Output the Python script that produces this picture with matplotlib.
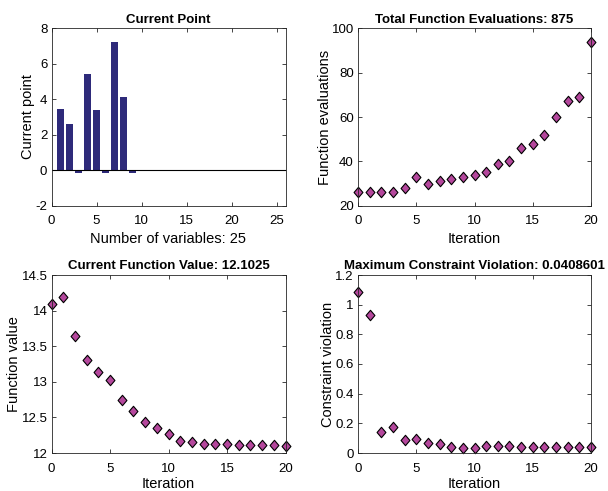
import numpy as np
import matplotlib
matplotlib.use("Agg")
import matplotlib.pyplot as plt
from matplotlib.path import Path

plt.rcParams['font.family'] = ['Liberation Sans', 'DejaVu Sans']
plt.rcParams['axes.unicode_minus'] = False

# Current point (25 variables)
var_idx = np.arange(1, 26)
point_vals = [3.45, 2.6, -0.15, 5.4, 3.4, -0.15, 7.25, 4.15, -0.15,
              0.0, 0.0, 0.0, 0.0, -0.01, -0.01, -0.01, -0.01, -0.01, -0.01,
              -0.01, -0.01, -0.01, -0.01, -0.01, -0.01]

iters = np.arange(0, 21)
func_evals = [26, 26, 26, 26, 28, 33, 30, 31, 32, 33, 34, 35, 39, 40, 46, 48,
              52, 60, 67, 69, 94]
func_vals = [14.09, 14.19, 13.64, 13.31, 13.14, 13.03, 12.74, 12.59, 12.44,
             12.35, 12.27, 12.17, 12.16, 12.13, 12.12, 12.12, 12.11, 12.11,
             12.11, 12.11, 12.1025]
constr_viol = [1.085, 0.93, 0.14, 0.175, 0.085, 0.095, 0.065, 0.06, 0.04,
               0.035, 0.035, 0.045, 0.045, 0.045, 0.04, 0.04, 0.04, 0.04,
               0.04, 0.04, 0.0408601]

bar_color = '#2e2a7a'
mk_face = '#b4479c'
axis_color = '#262626'

# MATLAB-like diamond (wider than matplotlib's thin diamond)
diamond = Path([(0, 1), (0.85, 0), (0, -1), (-0.85, 0), (0, 1)],
               [Path.MOVETO, Path.LINETO, Path.LINETO, Path.LINETO, Path.CLOSEPOLY])

fig = plt.figure(figsize=(6.08, 4.91), dpi=100)
W, H = 608, 491


def make_ax(l, r, t, b):
    ax = fig.add_axes([l / W, 1 - b / H, (r - l) / W, (b - t) / H])
    ax.tick_params(direction='in', top=True, right=True, labelsize=9.5,
                   length=3, width=0.6, colors=axis_color, labelcolor='black')
    ax.tick_params(axis='x', pad=7)
    ax.tick_params(axis='y', pad=3)
    for s in ax.spines.values():
        s.set_linewidth(0.6)
        s.set_color(axis_color)
    return ax


def diamonds(ax, x, y):
    ax.plot(x, y, linestyle='none', marker=diamond, markersize=7.5,
            markerfacecolor=mk_face, markeredgecolor='black',
            markeredgewidth=0.8, clip_on=False)


title_kw = dict(fontsize=9.5, fontweight='bold', pad=4)
label_fs = 10.5

ax1 = make_ax(51.5, 285.5, 28.3, 205.7)
ax1.bar(var_idx, point_vals, width=0.85, color=bar_color)
ax1.axhline(0, color='black', linewidth=0.8)
ax1.set_xlim(0, 26)
ax1.set_ylim(-2, 8)
ax1.set_xticks([0, 5, 10, 15, 20, 25])
ax1.set_yticks([-2, 0, 2, 4, 6, 8])
ax1.set_title('Current Point', **title_kw)
ax1.set_xlabel('Number of variables: 25', fontsize=label_fs, labelpad=3)
ax1.set_ylabel('Current point', fontsize=label_fs, labelpad=0)

ax2 = make_ax(358, 591, 28.3, 205.7)
diamonds(ax2, iters, func_evals)
ax2.set_xlim(0, 20)
ax2.set_ylim(20, 100)
ax2.set_xticks([0, 5, 10, 15, 20])
ax2.set_yticks([20, 40, 60, 80, 100])
ax2.set_title('Total Function Evaluations: 875', **title_kw)
ax2.set_xlabel('Iteration', fontsize=label_fs, labelpad=3)
ax2.set_ylabel('Function evaluations', fontsize=label_fs, labelpad=0)

ax3 = make_ax(51.5, 285.5, 275, 453)
diamonds(ax3, iters, func_vals)
ax3.set_xlim(0, 20)
ax3.set_ylim(12, 14.5)
ax3.set_xticks([0, 5, 10, 15, 20])
ax3.set_yticks([12, 12.5, 13, 13.5, 14, 14.5])
ax3.set_yticklabels(['12', '12.5', '13', '13.5', '14', '14.5'])
ax3.set_title('Current Function Value: 12.1025', **title_kw)
ax3.set_xlabel('Iteration', fontsize=label_fs, labelpad=1.5)
ax3.set_ylabel('Function value', fontsize=label_fs, labelpad=0)

ax4 = make_ax(358, 591, 275, 453)
diamonds(ax4, iters, constr_viol)
ax4.set_xlim(0, 20)
ax4.set_ylim(0, 1.2)
ax4.set_xticks([0, 5, 10, 15, 20])
ax4.set_yticks([0, 0.2, 0.4, 0.6, 0.8, 1, 1.2])
ax4.set_yticklabels(['0', '0.2', '0.4', '0.6', '0.8', '1', '1.2'])
ax4.set_title('Maximum Constraint Violation: 0.0408601', **title_kw)
ax4.set_xlabel('Iteration', fontsize=label_fs, labelpad=1.5)
ax4.set_ylabel('Constraint violation', fontsize=label_fs, labelpad=0)

fig.savefig('out.png', dpi=100, facecolor='white')
